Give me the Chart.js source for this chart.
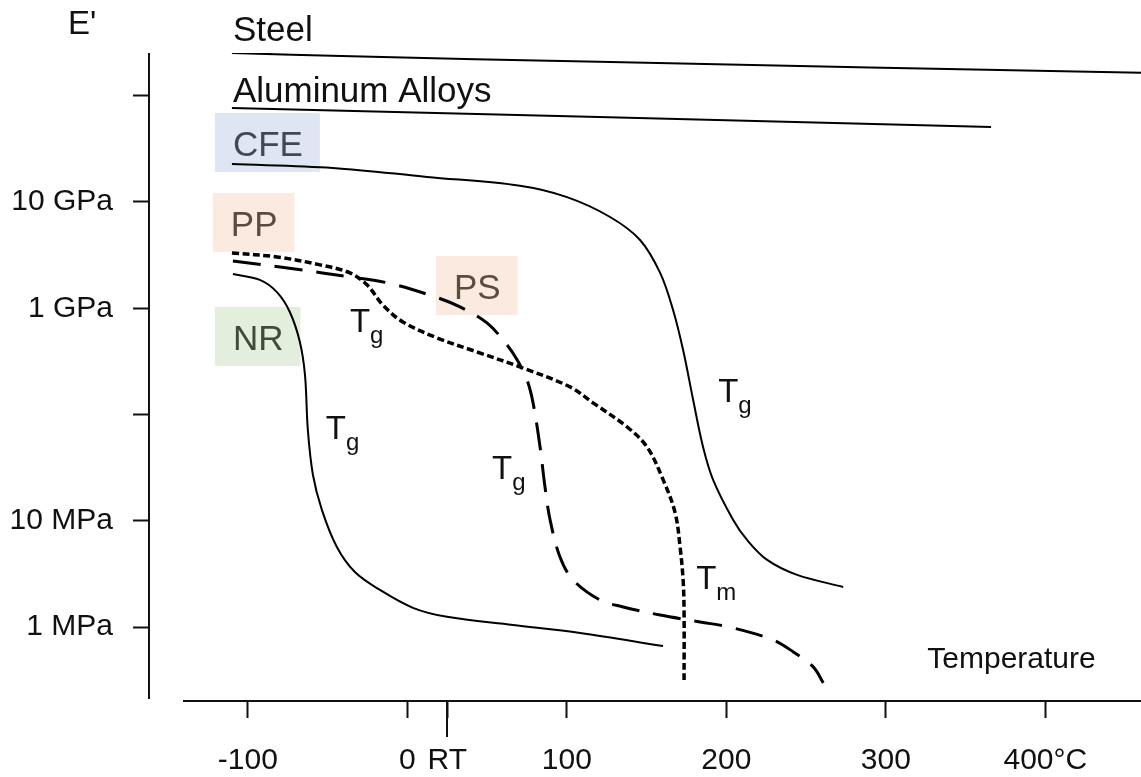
<!DOCTYPE html>
<html>
<head>
<meta charset="utf-8">
<script src="https://cdn.jsdelivr.net/npm/chart.js@4.4.1/dist/chart.umd.min.js"></script>
<style>
  html, body { margin: 0; padding: 0; background: #fff; }
  .wrap { width: 1141px; height: 777px; }
</style>
</head>
<body>
<div class="wrap"><canvas id="modulus" width="1141" height="777"></canvas></div>
<script>
// storage modulus E' (Pa) against temperature (°C)
const steelT = [-110, -35, 120, 460];
const steelE = [2.52e11, 2.35e11, 2.08e11, 1.64e11];

const aluT = [-110, 120, 366];
const aluE = [7.66e10, 6.31e10, 5.08e10];

const cfeT = [-110, -46.7, 12.3, 70.6, 100.1, 127.1, 145.9, 158.5, 166.6, 172.9, 179.2, 185.4, 191.7, 204.3, 213, 225.6, 244.4, 273.3];
const cfeE = [2.27e10, 2.09e10, 1.72e10, 1.42e10, 1.11e10, 7.22e9, 4.39e9, 2.15e9, 9.64e8, 4.05e8, 1.37e8, 4.95e7, 2.43e7, 1.02e7, 6.61e6, 4.29e6, 3.10e6, 2.39e6];

const nrT = [-109.4, -92.5, -81.8, -73.7, -67.4, -64.2, -62.4, -59.2, -53.6, -44.2, -32.9, -17.2, 3.5, 24.8, 66.2, 108.3, 160.3];
const nrE = [2.10e9, 1.85e9, 1.42e9, 9.23e8, 4.82e8, 2.36e8, 7.17e7, 2.70e7, 1.27e7, 5.68e6, 3.30e6, 2.24e6, 1.52e6, 1.25e6, 1.05e6, 8.83e5, 6.65e5];

const ppT = [-110, -81.8, -54.8, -36, -25.3, -15.3, -2.8, 18.6, 43.7, 72.5, 102, 116.4, 137.8, 150.3, 160.4, 167.9, 171, 172.9, 173.5, 173.5];
const ppE = [3.31e9, 3.04e9, 2.56e9, 2.15e9, 1.66e9, 1.07e9, 7.43e8, 5.26e8, 3.88e8, 2.74e8, 1.82e8, 1.29e8, 7.64e7, 4.95e7, 2.43e7, 1.19e7, 5.68e6, 2.78e6, 1.36e6, 3.18e5];

const psT = [-109.4, -70.5, -36, -12.2, 15.4, 33, 49.9, 62.5, 68.8, 75, 78.8, 83.2, 86.3, 89.5, 95.7, 103.9, 120.8, 135.3, 158.5, 183.6, 204.3, 229.4, 242, 254.5, 260.8];
const psE = [2.79e9, 2.34e9, 1.97e9, 1.73e9, 1.31e9, 1.03e9, 7.28e8, 4.52e8, 3.27e8, 2.12e8, 1.29e8, 4.95e7, 2.08e7, 1.02e7, 4.57e6, 2.78e6, 1.80e6, 1.55e6, 1.30e6, 1.12e6, 9.83e5, 7.58e5, 5.85e5, 4.23e5, 2.99e5];

const xTickValues = [-100, 0, 25, 100, 200, 300, 400];
const xTickLabels = ['-100', '0', 'RT', '100', '200', '300', '400°C'];
const yTickValues = [1e11, 1e10, 1e9, 1e8, 1e7, 1e6];
const yTickLabels = ['', '10 GPa', '1 GPa', '', '10 MPa', '1 MPa'];
const roomTemp = 25;

const FONT = "'Liberation Sans', Arial, sans-serif";
Chart.defaults.font.family = FONT;

const series = (T, E) => T.map((t, i) => ({ x: t, y: E[i] }));

// material names, placed in data units
const tags = [
  { text: 'Steel', t: -109.4, e: 3.3e11 },
  { text: 'Aluminum Alloys', t: -109.4, e: 8.8e10 },
  { text: 'CFE', t: -109.4, e: 2.71e10, fill: '#dfe6f3', color: '#414858' },
  { text: 'PP', t: -110.7, e: 4.79e9, fill: '#fbeadf', color: '#5b4c40' },
  { text: 'PS', t: 29.2, e: 1.22e9, fill: '#fbeadf', color: '#5b4c40' },
  { text: 'NR', t: -109.4, e: 4.05e8, fill: '#e4eedd', color: '#404b3b' }
];
// transition temperatures
const marks = [
  { sub: 'g', t: -36, e: 5.98e8 },
  { sub: 'g', t: -51.1, e: 5.89e7 },
  { sub: 'g', t: 53.1, e: 2.48e7 },
  { sub: 'g', t: 194.9, e: 1.31e8 },
  { sub: 'm', t: 181.1, e: 2.29e6 }
];

const notes = {
  id: 'notes',
  beforeDatasetsDraw(chart) {
    const { ctx, chartArea: a, scales: { x, y } } = chart;
    ctx.save();

    // axis lines, the x axis starts a bit right of the y axis
    ctx.strokeStyle = '#111';
    ctx.lineWidth = 2;
    ctx.beginPath();
    ctx.moveTo(a.left, a.top);
    ctx.lineTo(a.left, a.bottom - 2);
    ctx.moveTo(a.left + 34, a.bottom);
    ctx.lineTo(a.right, a.bottom);
    const rt = Math.round(x.getPixelForValue(roomTemp));
    ctx.moveTo(rt, a.bottom);
    ctx.lineTo(rt, a.bottom + 36);
    ctx.stroke();

    ctx.textBaseline = 'alphabetic';
    ctx.textAlign = 'left';

    ctx.font = '33px ' + FONT;
    ctx.fillStyle = '#111';
    ctx.fillText("E'", a.left - 81, a.top - 19);

    ctx.font = '35px ' + FONT;
    tags.forEach(tag => {
      const px = x.getPixelForValue(tag.t);
      const py = y.getPixelForValue(tag.e);
      const w = ctx.measureText(tag.text).width;
      if (tag.fill) {
        ctx.fillStyle = tag.fill;
        ctx.fillRect(px - 18, py - 43, w + 35, 59);
      }
      ctx.fillStyle = tag.color || '#111';
      ctx.fillText(tag.text, px, py);
    });

    marks.forEach(m => {
      const px = x.getPixelForValue(m.t);
      const py = y.getPixelForValue(m.e);
      ctx.fillStyle = '#111';
      ctx.font = '33px ' + FONT;
      ctx.fillText('T', px, py);
      const w = ctx.measureText('T').width;
      ctx.font = '24px ' + FONT;
      ctx.fillText(m.sub, px + w, py + 11);
    });

    ctx.font = '30px ' + FONT;
    ctx.fillStyle = '#111';
    ctx.fillText('Temperature', x.getPixelForValue(326), y.getPixelForValue(4.13e5));
    ctx.restore();
  }
};

const line = (label, T, E, extra) => Object.assign({
  label: label,
  data: series(T, E),
  borderColor: '#000',
  borderWidth: 2,
  pointRadius: 0,
  tension: 0.35,
  fill: false
}, extra);

new Chart(document.getElementById('modulus'), {
  type: 'line',
  data: {
    datasets: [
      line('Steel', steelT, steelE),
      line('Aluminum Alloys', aluT, aluE),
      line('CFE', cfeT, cfeE),
      line('NR', nrT, nrE),
      line('PP', ppT, ppE, { borderWidth: 3.5, borderDash: [7, 3.5] }),
      line('PS', psT, psE, { borderWidth: 3, borderDash: [28, 14] })
    ]
  },
  options: {
    responsive: false,
    animation: false,
    events: [],
    layout: { padding: { top: 53, left: 0, right: 0, bottom: 0 } },
    plugins: {
      legend: { display: false },
      tooltip: { enabled: false }
    },
    scales: {
      x: {
        type: 'linear',
        min: -162,
        max: 460,
        afterBuildTicks: s => { s.ticks = xTickValues.map(v => ({ value: v })); },
        afterFit: s => { s.height = 76; },
        border: { display: false },
        grid: { drawOnChartArea: false, tickLength: 17, tickWidth: 2, tickColor: '#111' },
        ticks: {
          autoSkip: false,
          maxRotation: 0,
          padding: 25,
          color: '#111',
          font: { size: 30 },
          callback: (v, i) => xTickLabels[i]
        }
      },
      y: {
        type: 'logarithmic',
        min: 2.02e5,
        max: 2.52e11,
        afterBuildTicks: s => { s.ticks = yTickValues.map(v => ({ value: v })); },
        afterFit: s => { s.width = 149; },
        border: { display: false },
        grid: { drawOnChartArea: false, tickLength: 16, tickWidth: 2, tickColor: '#111' },
        ticks: {
          padding: 20,
          color: '#111',
          font: { size: 30 },
          callback: (v, i) => yTickLabels[i]
        }
      }
    }
  },
  plugins: [notes]
});
</script>
</body>
</html>
